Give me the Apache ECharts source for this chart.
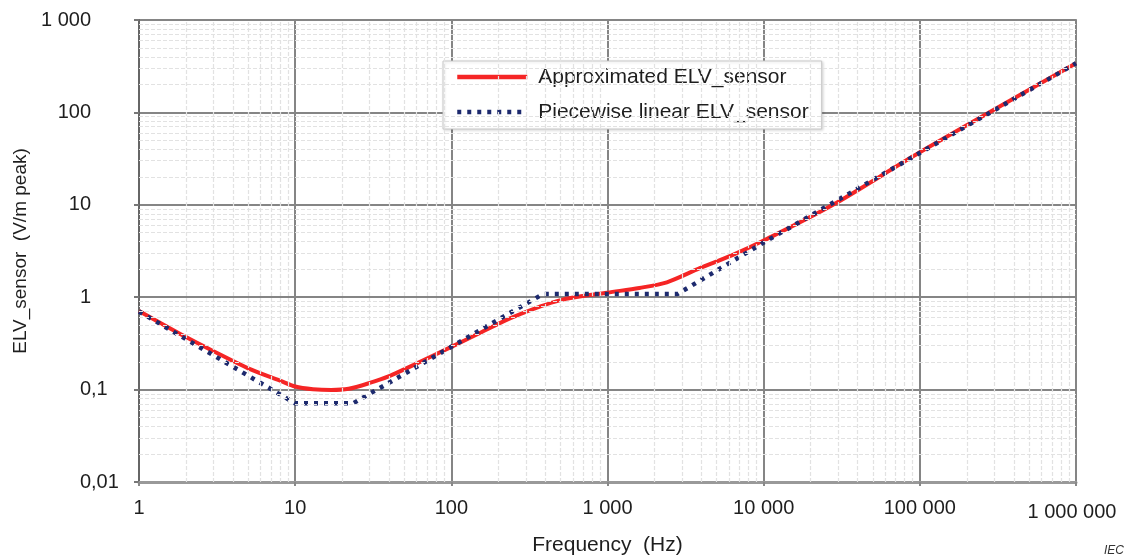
<!DOCTYPE html>
<html>
<head>
<meta charset="utf-8">
<script src="https://cdn.jsdelivr.net/npm/echarts@6/dist/echarts.min.js"></script>
<style>
  html, body { margin: 0; padding: 0; background: #fff; }
  #chart { width: 1132px; height: 560px; }
</style>
</head>
<body>
<div id="chart"></div>
<script>
// approximated curve (red)
var approxFreq = [1, 2, 3, 5, 8, 10, 13, 17, 22, 30, 40, 57, 100, 152, 248, 500, 1000, 1600, 2400, 3900, 6300, 10000, 27800, 100000, 1000000];
var approxVal  = [0.71, 0.37, 0.26, 0.17, 0.125, 0.108, 0.101, 0.099, 0.102, 0.118, 0.14, 0.184, 0.29, 0.41, 0.61, 0.93, 1.12, 1.26, 1.45, 2.06, 2.85, 4.1, 10, 37, 340];
// piecewise linear curve (blue dots)
var pieceFreq = [1, 10, 23.5, 385, 2800, 10000, 1000000];
var pieceVal  = [0.7, 0.071, 0.071, 1.08, 1.08, 3.9, 340];

var xTickLabels = ['1', '10', '100', '1 000', '10 000', '100 000', '1 000 000'];
var yTickLabels = ['0,01', '0,1', '1', '10', '100', '1 000'];
var minorMult = [2, 3, 4, 5, 6, 7, 8, 9];
var xDecades = [1, 10, 100, 1000, 10000, 100000];
var yDecades = [0.01, 0.1, 1, 10, 100];

var approxData = approxFreq.map(function (f, i) { return [f, approxVal[i]]; });
var pieceData = pieceFreq.map(function (f, i) { return [f, pieceVal[i]]; });

var minorLines = [];
xDecades.forEach(function (d) {
  minorMult.forEach(function (m) { minorLines.push({ xAxis: d * m }); });
});
yDecades.forEach(function (d) {
  minorMult.forEach(function (m) { minorLines.push({ yAxis: d * m }); });
});

function expOf(v) { return Math.round(Math.log10(v)); }

var chart = echarts.init(document.getElementById('chart'));
var font = 'Liberation Sans, Arial, sans-serif';
var ink = '#1e1e1e';

var option = {
  animation: false,
  textStyle: { fontFamily: font },
  grid: {
    left: 139, right: 56, top: 20, bottom: 78,
    outerBoundsMode: 'none', containLabel: false,
    show: true, borderColor: '#9a9a9a', borderWidth: 2, backgroundColor: 'transparent'
  },
  legend: {
    data: ['Approximated ELV_sensor', 'Piecewise linear ELV_sensor'],
    orient: 'vertical',
    left: 443, top: 61,
    padding: [5, 13, 6, 12],
    itemGap: 13,
    itemWidth: 70, itemHeight: 14,
    backgroundColor: '#fff',
    borderColor: '#c8c8c8', borderWidth: 1,
    shadowColor: 'rgba(0,0,0,0.15)', shadowBlur: 3, shadowOffsetX: 1, shadowOffsetY: 1,
    itemStyle: { opacity: 0 },
    lineStyle: { width: 4.5 },
    textStyle: { fontSize: 21, color: ink, fontFamily: font, padding: [0, 0, 0, 6], lineHeight: 22 }
  },
  xAxis: {
    type: 'log', logBase: 10, min: 1, max: 1000000, splitNumber: 6,
    name: 'Frequency  (Hz)', nameLocation: 'middle', nameGap: 53,
    nameTextStyle: { fontSize: 21, color: ink, fontFamily: font },
    axisLine: { lineStyle: { color: '#999', width: 3 } },
    axisTick: { show: true, length: 4, lineStyle: { color: '#888', width: 2 } },
    axisLabel: {
      fontSize: 20, color: ink, margin: 16,
      formatter: function (v) {
        var e = expOf(v);
        return e === 6 ? '{low|' + xTickLabels[e] + '}' : xTickLabels[e];
      },
      rich: { low: { fontSize: 20, color: ink, padding: [4, 8, 0, 0], fontFamily: font } }
    },
    splitLine: { show: true, lineStyle: { color: '#858585', width: 2 } }
  },
  yAxis: {
    type: 'log', logBase: 10, min: 0.01, max: 1000, splitNumber: 5,
    name: 'ELV_sensor  (V/m peak)', nameLocation: 'middle', nameGap: 104, nameRotate: 90,
    nameTextStyle: { fontSize: 19, color: ink, fontFamily: font },
    axisLine: { lineStyle: { color: '#666', width: 2 } },
    axisTick: { show: true, length: 5, lineStyle: { color: '#777', width: 2 } },
    axisLabel: {
      fontSize: 20, color: ink, margin: 18, align: 'right',
      formatter: function (v) {
        var t = yTickLabels[expOf(v) + 2];
        var k = t.indexOf(',');
        var ip = k < 0 ? t : t.slice(0, k);
        var dp = k < 0 ? '\u00a0' : t.slice(k);
        return '{i|' + ip + '}{d|' + dp + '}';
      },
      rich: {
        i: { fontSize: 20, color: ink, fontFamily: font, align: 'left' },
        d: { fontSize: 20, color: ink, fontFamily: font, width: 30, align: 'left' }
      }
    },
    splitLine: { show: true, lineStyle: { color: '#858585', width: 2 } }
  },
  series: [
    {
      name: 'minor grid',
      type: 'line', data: [], silent: true, z: 1,
      markLine: {
        silent: true, symbol: ['none', 'none'], animation: false,
        label: { show: false },
        lineStyle: { color: '#e2e2e2', width: 1.2, type: [4, 2] },
        data: minorLines
      }
    },
    {
      name: 'Approximated ELV_sensor',
      type: 'line', data: approxData, smooth: 0.3, symbol: 'none', z: 3,
      lineStyle: { color: '#f52525', width: 4 },
      itemStyle: { color: '#f52525' }
    },
    {
      name: 'Piecewise linear ELV_sensor',
      type: 'line', data: pieceData, symbol: 'none', z: 4,
      lineStyle: { color: '#1d2a6e', width: 4.5, type: [4, 6], cap: 'butt' },
      itemStyle: { color: '#1d2a6e' }
    }
  ],
  graphic: [{
    type: 'text', right: 8, top: 545,
    style: { text: 'IEC', fontSize: 12, fontStyle: 'italic', fill: '#333', fontFamily: font }
  }]
};
chart.setOption(option);
</script>
</body>
</html>
